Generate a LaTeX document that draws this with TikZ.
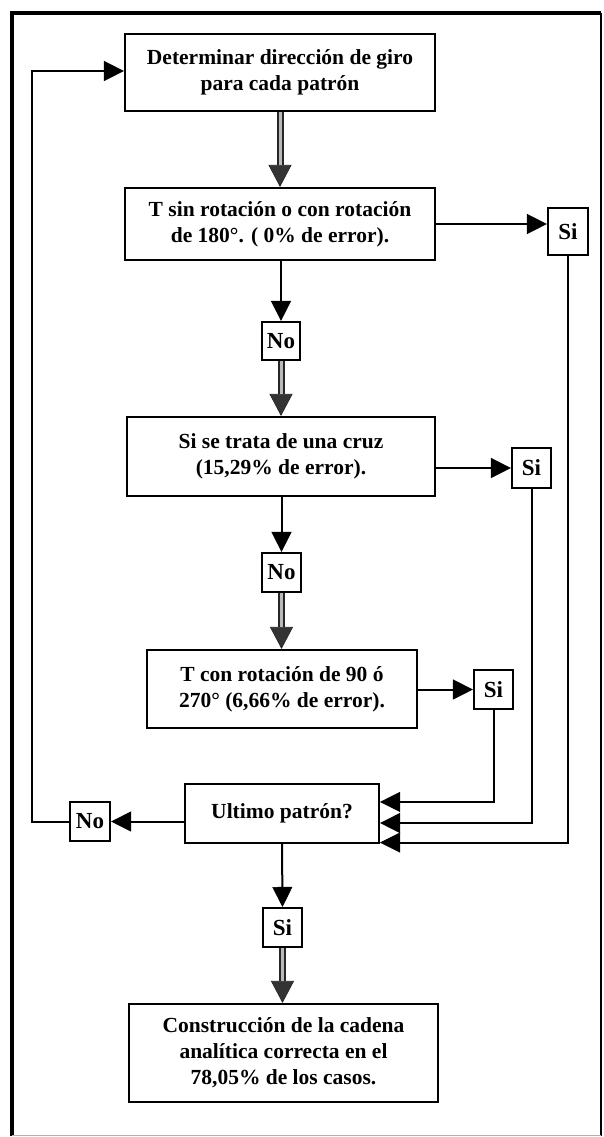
\documentclass[tikz,border=0pt]{standalone}
\usepackage{fontspec}
\setmainfont{Liberation Serif}
\usetikzlibrary{arrows.meta,calc}
\begin{document}
\begin{tikzpicture}[x=1pt,y=-1pt,
  box/.style={draw,line width=2.1pt,align=center,inner sep=0pt,
    font=\fontsize{21.5}{26}\selectfont\bfseries},
  lab/.style={draw,line width=2.1pt,inner sep=0pt,
    font=\fontsize{23}{24}\selectfont\bfseries},
  arr/.style={line width=2pt,-{Triangle[length=20pt,width=20pt,line width=0.5pt]}},
  dbl/.style={draw=black!85,line width=7pt,
    -{Triangle[length=22pt,width=23pt,line width=0.6pt,fill=gray!40!black]},
    postaction={draw=gray!55,line width=3pt,-,shorten >=22pt}}
]
\fill[white] (0,0) rectangle (603,1137);
\useasboundingbox (0,0) rectangle (603,1137);
% frame
\draw[line width=3.5pt] (12,1136) -- (12,13) -- (601,13);
\draw[line width=1.5pt] (601,13) -- (601,1136);
\draw[line width=1.2pt,gray!60] (12,1135.5) -- (601,1135.5);

% nodes
\node[box,minimum width=310pt,minimum height=77pt] (b1) at (280,72.5) {Determinar dirección de giro\\para cada patrón};
\node[box,minimum width=310pt,minimum height=72pt] (b2) at (280,224) {T sin rotación o con rotación\\de 180°. ( 0\% de error).};
\node[lab,minimum width=40pt,minimum height=47pt] (si1) at (568,231.5) {Si};
\node[lab,minimum width=38pt,minimum height=38pt] (no1) at (281,341) {No};
\node[box,minimum width=308pt,minimum height=79pt] (b3) at (281,456.5) {Si se trata de una cruz\\(15,29\% de error).};
\node[lab,minimum width=39pt,minimum height=40pt] (si2) at (531.5,468) {Si};
\node[lab,minimum width=39pt,minimum height=39pt] (no2) at (281.5,572.5) {No};
\node[box,minimum width=270pt,minimum height=78pt] (b4) at (282,689) {T con rotación de 90 ó\\270° (6,66\% de error).};
\node[lab,minimum width=39pt,minimum height=39pt] (si3) at (493.5,689.5) {Si};
\node[box,minimum width=194pt,minimum height=59pt] (ult) at (282,813.5) {Ultimo patrón?};
\node[lab,minimum width=40pt,minimum height=39pt] (no3) at (90,821.5) {No};
\node[lab,minimum width=39pt,minimum height=39pt] (si4) at (282.5,927.5) {Si};
\node[box,minimum width=309pt,minimum height=98pt] (b5) at (283.5,1053) {Construcción de la cadena\\analítica correcta en el\\78,05\% de los casos.};

% coordinates
\coordinate (in1) at ([yshift=-19pt]ult.north east);
\coordinate (in2) at ([yshift=-9.5pt]ult.east);
\coordinate (in3) at ([yshift=1.5pt]ult.south east);
\coordinate (cL) at (32,71);

% connectors
\draw[dbl] (b1.south) -- (b2.north);
\draw[arr] (b2.east) -- (b2.east -| si1.west);
\draw[arr] (no1.north |- b2.south) -- (no1.north);
\draw[dbl] (no1.south) -- (no1.south |- b3.north);
\draw[arr] (si2.west -| b3.east) -- (si2.west);
\draw[arr] (no2.north |- b3.south) -- (no2.north);
\draw[dbl] (no2.south) -- (no2.south |- b4.north);
\draw[arr] (si3.west -| b4.east) -- (si3.west);
\draw[arr] (si3.south) |- (in1);
\draw[arr] (si2.south) |- (in2);
\draw[arr] (si1.south) |- (in3);
\draw[arr] (no3.east -| ult.west) -- (no3.east);
\draw[arr] (no3.west) -| (cL) -- (cL -| b1.west);
\draw[arr] (ult.south) -- (si4.north);
\draw[dbl] (si4.south) -- (si4.south |- b5.north);
\end{tikzpicture}
\end{document}
